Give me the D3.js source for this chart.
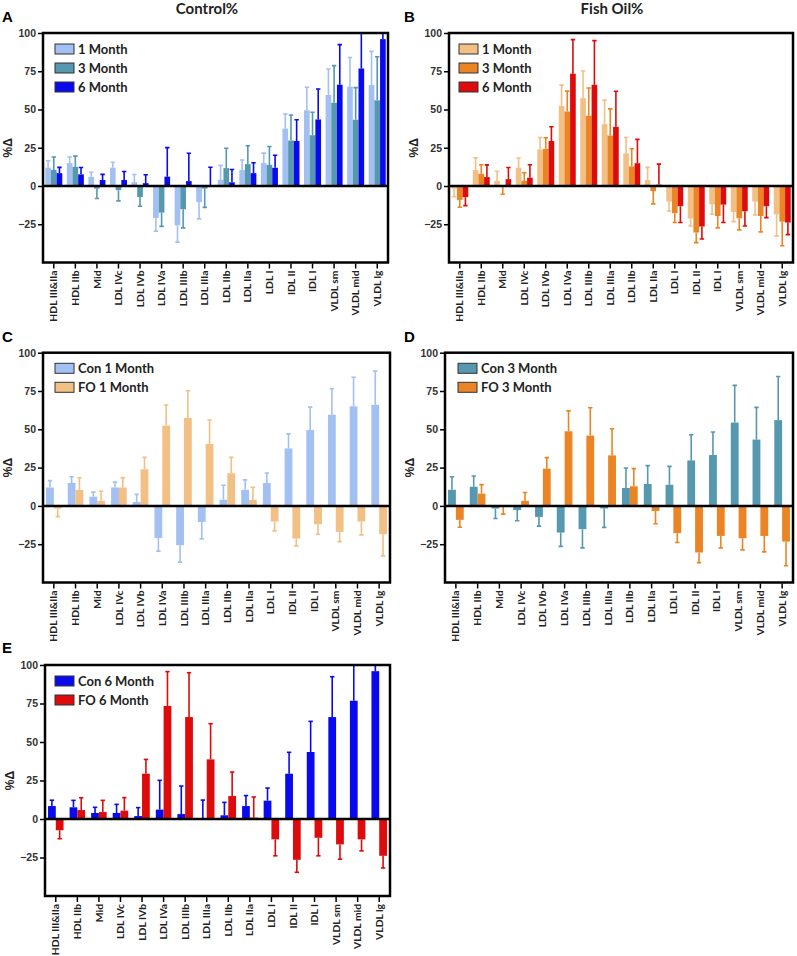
<!DOCTYPE html>
<html>
<head>
<meta charset="utf-8">
<script src="https://cdn.jsdelivr.net/npm/d3@7/dist/d3.min.js"></script>
<style>
  html, body { margin: 0; padding: 0; background: #fff; }
  svg { display: block; }
</style>
</head>
<body>
<svg id="chart" width="797" height="956"></svg>
<script>
// ---------------- DATA ----------------
const categories = ["HDL III&IIa","HDL IIb","Mid","LDL IVc","LDL IVb","LDL IVa","LDL IIIb","LDL IIIa",
  "LDL IIb","LDL IIa","LDL I","IDL II","IDL I","VLDL sm","VLDL mid","VLDL lg"];
const yTicks = [100, 75, 50, 25, 0, -25];

const con1    = [12, 15, 6, 12, 2.5, -21, -25.7, -10.5, 4, 10.5, 15, 37.5, 49.5, 59.5, 65, 66];
const con1Err = [4.5, 4, 3, 3.5, 5, 8.5, 11, 11, 9.5, 6.5, 6.5, 9.5, 15, 17, 19, 22];
const con3    = [10.5, 12.5, -1.7, -2.7, -7.2, -17.4, -15.2, -1.7, 11.7, 14.3, 13.8, 29.7, 33.2, 54.4, 43.3, 56];
const con3Err = [8.5, 7, 6.5, 7, 6, 9, 12.2, 12.3, 13, 12, 12, 16.7, 15, 24.3, 21, 28.5];
const con6    = [8.4, 7.6, 3.9, 3.9, 1.9, 6.1, 3.2, 0.3, 2.4, 8.4, 11.9, 29.4, 43.5, 66.2, 76.8, 96];
const con6Err = [3.8, 4.5, 3.7, 5.6, 5.5, 19, 18.2, 12, 8.4, 6.8, 8.2, 13.9, 19.9, 26.2, 28, 15];

const fo1    = [-1.7, 10.4, 3.3, 12, 23.9, 52.4, 57.4, 40.4, 21.3, 3.9, -10.2, -21.3, -12, -17, -10.2, -18.5];
const fo1Err = [5.3, 8, 6.3, 6.3, 7.8, 13.5, 17.8, 15.7, 10.4, 8.3, 6.1, 4.8, 6.5, 6.3, 8.7, 14.1];
const fo3    = [-9.1, 8, -0.4, 3.3, 24.3, 48.7, 45.9, 33, 12.8, -3.3, -17.8, -30.4, -19.6, -21.1, -19.6, -23.3];
const fo3Err = [4.8, 5.9, 5, 5.4, 7.2, 13.3, 18.2, 17.4, 11.5, 8.4, 6.1, 6.6, 7.8, 7.6, 10.4, 15.8];
const fo6    = [-7.3, 5.8, 4.5, 5.4, 29.4, 73.4, 66.2, 38.7, 14.9, 0.9, -13.2, -26.5, -12.2, -16.5, -13.2, -23.9];
const fo6Err = [5.5, 8, 7.6, 8.5, 9.3, 22.3, 28.8, 23.2, 15.6, 13.4, 10.7, 8.1, 11.7, 9.6, 7.5, 7.9];

// ---------------- STYLES / LAYOUT ----------------
const colors = {
  con1: "#a3c0f2", con3: "#5598b0", con6: "#0a0aee",
  fo1: "#f2bf85", fo3: "#ea8424", fo6: "#dd0b0b"
};

const panels = [
  { letter: "A", lx: 2, ly: 22, title: "Control%", tx: 207, ty: 14,
    left: 43, right: 388, top: 33, bottom: 262.5, groupFrac: 0.79,
    legend: { x: 55, y: 44 },
    series: [
      { name: "1 Month", v: con1, e: con1Err, c: colors.con1 },
      { name: "3 Month", v: con3, e: con3Err, c: colors.con3 },
      { name: "6 Month", v: con6, e: con6Err, c: colors.con6 } ] },
  { letter: "B", lx: 404, ly: 22, title: "Fish Oil%", tx: 612, ty: 14,
    left: 449, right: 793, top: 33, bottom: 262.5, groupFrac: 0.79,
    legend: { x: 459, y: 44 },
    series: [
      { name: "1 Month", v: fo1, e: fo1Err, c: colors.fo1 },
      { name: "3 Month", v: fo3, e: fo3Err, c: colors.fo3 },
      { name: "6 Month", v: fo6, e: fo6Err, c: colors.fo6 } ] },
  { letter: "C", lx: 2, ly: 342,
    left: 43, right: 390, top: 352.7, bottom: 582.5, groupFrac: 0.72,
    legend: { x: 55, y: 363.3 },
    series: [
      { name: "Con 1 Month", v: con1, e: con1Err, c: colors.con1 },
      { name: "FO 1 Month", v: fo1, e: fo1Err, c: colors.fo1 } ] },
  { letter: "D", lx: 404, ly: 342,
    left: 445, right: 793, top: 352.7, bottom: 582.5, groupFrac: 0.72,
    legend: { x: 458, y: 363.3 },
    series: [
      { name: "Con 3 Month", v: con3, e: con3Err, c: colors.con3 },
      { name: "FO 3 Month", v: fo3, e: fo3Err, c: colors.fo3 } ] },
  { letter: "E", lx: 2, ly: 653,
    left: 45, right: 390, top: 665, bottom: 896, groupFrac: 0.72,
    legend: { x: 55, y: 676 },
    series: [
      { name: "Con 6 Month", v: con6, e: con6Err, c: colors.con6 },
      { name: "FO 6 Month", v: fo6, e: fo6Err, c: colors.fo6 } ] }
];

const svg = d3.select("#chart");
const defs = svg.append("defs");
const FONT = "Lato, 'Liberation Sans', Arial, sans-serif";
const TICKFONT = "'Liberation Sans', Arial, sans-serif";

panels.forEach((p, pi) => {
  const g = svg.append("g");
  const x = d3.scaleBand().domain(categories).range([p.left, p.right]).paddingInner(0).paddingOuter(0);
  const y = d3.scaleLinear().domain([-50, 100]).range([p.bottom, p.top]);
  const n = p.series.length;
  const gw = x.bandwidth() * p.groupFrac;
  const inner = d3.scaleBand().domain(d3.range(n)).range([0, gw]);
  const off = (x.bandwidth() - gw) / 2;

  const clipId = "clip" + pi;
  defs.append("clipPath").attr("id", clipId)
    .append("rect").attr("x", p.left).attr("y", p.top)
    .attr("width", p.right - p.left).attr("height", p.bottom - p.top);

  const plot = g.append("g").attr("clip-path", `url(#${clipId})`);

  p.series.forEach((s, si) => {
    const data = categories.map((cat, i) => ({ cat, v: s.v[i], e: s.e[i] }));
    const bx = d => x(d.cat) + off + inner(si);
    const bw = inner.bandwidth();
    // error bars (away from zero)
    const eg = plot.append("g").attr("stroke", s.c).attr("stroke-width", 1.6).attr("fill", "none");
    eg.selectAll("line.v").data(data).join("line")
      .attr("x1", d => bx(d) + bw / 2).attr("x2", d => bx(d) + bw / 2)
      .attr("y1", d => y(d.v))
      .attr("y2", d => y(d.v >= 0 ? d.v + d.e : d.v - d.e));
    eg.selectAll("line.c").data(data).join("line")
      .attr("x1", d => bx(d) + bw / 2 - 2.2).attr("x2", d => bx(d) + bw / 2 + 2.2)
      .attr("y1", d => y(d.v >= 0 ? d.v + d.e : d.v - d.e))
      .attr("y2", d => y(d.v >= 0 ? d.v + d.e : d.v - d.e));
    // bars
    plot.append("g").selectAll("rect").data(data).join("rect")
      .attr("x", d => bx(d)).attr("width", bw)
      .attr("y", d => y(Math.max(0, d.v)))
      .attr("height", d => Math.abs(y(d.v) - y(0)))
      .attr("fill", s.c);
  });

  // zero line
  g.append("line").attr("x1", p.left).attr("x2", p.right)
    .attr("y1", y(0)).attr("y2", y(0)).attr("stroke", "#000").attr("stroke-width", 2.5);

  // frame
  g.append("rect").attr("x", p.left).attr("y", p.top)
    .attr("width", p.right - p.left).attr("height", p.bottom - p.top)
    .attr("fill", "none").attr("stroke", "#000").attr("stroke-width", 2.5);

  // y axis
  const ya = g.append("g").attr("transform", `translate(${p.left - 1},0)`)
    .call(d3.axisLeft(y).tickValues(yTicks).tickSize(4).tickPadding(2).tickFormat(d3.format("d")));
  ya.select(".domain").remove();
  ya.selectAll(".tick line").attr("stroke", "#000").attr("stroke-width", 1.5);
  ya.selectAll(".tick text").attr("font-family", TICKFONT).attr("font-weight", "bold")
    .attr("font-size", 10.5).attr("fill", "#333");

  // x axis
  const xa = g.append("g").attr("transform", `translate(0,${p.bottom + 1})`)
    .call(d3.axisBottom(x).tickSize(5).tickPadding(3));
  xa.select(".domain").remove();
  xa.selectAll(".tick line").attr("stroke", "#000").attr("stroke-width", 1.5);
  xa.selectAll(".tick text")
    .attr("font-family", FONT).attr("font-weight", "bold").attr("font-size", 10.3).attr("fill", "#222")
    .attr("text-anchor", "end")
    .attr("transform", "rotate(-90)")
    .attr("x", -7).attr("y", 0).attr("dy", "0.35em");

  // y label
  g.append("text")
    .attr("transform", `translate(${p.left - 31},${(p.top + p.bottom) / 2}) rotate(-90)`)
    .attr("text-anchor", "middle").attr("font-family", TICKFONT).attr("font-weight", "bold")
    .attr("font-size", 12).attr("fill", "#222").text("%Δ");

  // panel letter
  g.append("text").attr("x", p.lx).attr("y", p.ly)
    .attr("font-family", TICKFONT).attr("font-weight", "bold").attr("font-size", 15)
    .attr("fill", "#000").text(p.letter);

  // title
  if (p.title) {
    g.append("text").attr("x", p.tx).attr("y", p.ty).attr("text-anchor", "middle")
      .attr("font-family", FONT).attr("font-weight", "bold").attr("font-size", 15)
      .attr("fill", "#222").text(p.title);
  }

  // legend
  const lg = g.append("g").attr("transform", `translate(${p.legend.x},${p.legend.y})`);
  p.series.forEach((s, si) => {
    const row = lg.append("g").attr("transform", `translate(0,${si * 19})`);
    row.append("rect").attr("width", 19).attr("height", 10).attr("fill", s.c)
      .attr("stroke", "#333").attr("stroke-width", 1);
    row.append("text").attr("x", 23).attr("y", 5).attr("dy", "0.36em")
      .attr("font-family", FONT).attr("font-weight", "bold").attr("font-size", 13)
      .attr("fill", "#222").text(s.name);
  });
});
</script>
</body>
</html>
